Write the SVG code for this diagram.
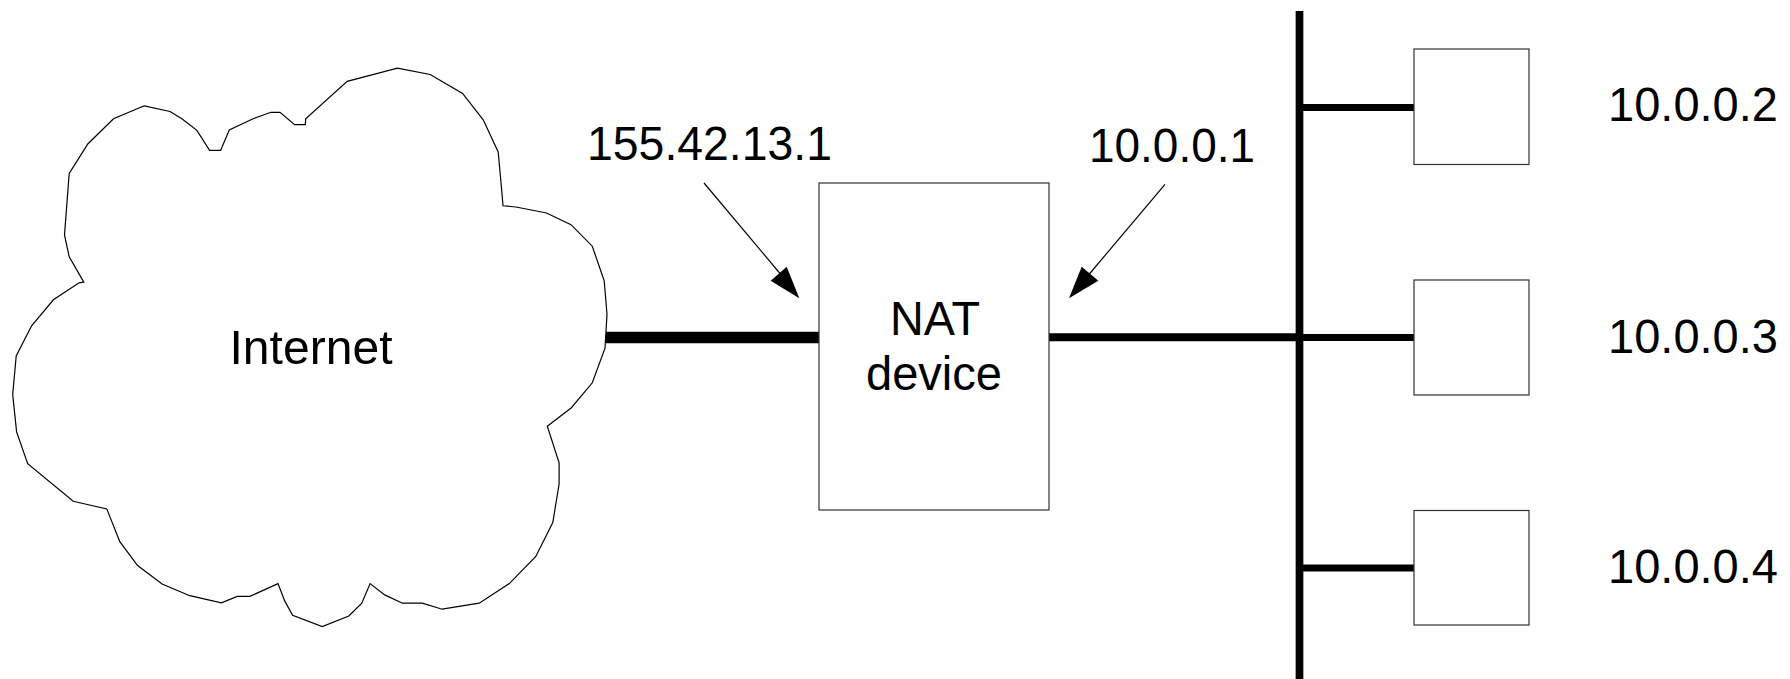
<svg xmlns="http://www.w3.org/2000/svg" width="1790" height="679" viewBox="0 0 1790 679">
<style>
.lbl{font-family:"Liberation Sans",Arial,sans-serif;font-size:48px;fill:#000}
.box{fill:#fff;stroke:#333;stroke-width:1.2}
.thin{stroke:#000;stroke-width:1.2;fill:none}
</style>
<rect width="1790" height="679" fill="#fff"/>
<g id="connectors">
<line x1="606" y1="337.5" x2="819" y2="337.5" stroke="#000" stroke-width="11.5"/>
<line x1="1049" y1="337.3" x2="1299.5" y2="337.3" stroke="#000" stroke-width="8"/>
<line x1="1299.5" y1="11" x2="1299.5" y2="679" stroke="#000" stroke-width="7.7"/>
<line x1="1299.5" y1="107.5" x2="1414" y2="107.5" stroke="#000" stroke-width="7"/>
<line x1="1299.5" y1="337.5" x2="1414" y2="337.5" stroke="#000" stroke-width="7"/>
<line x1="1299.5" y1="568" x2="1414" y2="568" stroke="#000" stroke-width="7"/>
<line x1="704" y1="183" x2="783" y2="277" class="thin"/>
<path d="M799.3,298.3 L770.7,280.7 L786.7,266.7 Z" fill="#000"/>
<line x1="1165" y1="184.3" x2="1086" y2="278" class="thin"/>
<path d="M1069,298.3 L1081.7,266.7 L1098.3,280.7 Z" fill="#000"/>
</g>
<g id="internet">
<path class="thin" fill="#fff" d="M144.3,105.8 L113.5,118.7 L87.8,144 L69.2,173.4 L64.5,234.9 L69.2,256.8 L83.8,282.1 L79.1,282.8 L53.4,299.8 L31.6,325.8 L16.2,356 L12.7,394.5 L16.6,431.9 L27.7,463.6 L73.2,501.3 L106.8,508.9 L119.8,541.7 L137.6,565.5 L162.1,584 L189.8,595.7 L221.4,602.8 L237.3,596.4 L249.9,596.4 L278,583.6 L284.7,600.9 L292.6,615.3 L322.3,626.6 L348.8,616 L361.8,603.2 L370.1,583.6 L384.7,594.9 L402.5,603.2 L422.3,603.2 L442.1,609.2 L479.2,603.2 L509.3,583.6 L535.8,556.4 L552.8,522.5 L559.1,484 L559.1,462.8 L547.3,426.2 L571.4,407.7 L592.3,382.8 L605,348.1 L607,314.2 L604.2,280.9 L592.3,246.2 L571,224.7 L546.5,213 L516,207 L503,205.8 L502.2,196 L498.2,151.9 L483.2,119.8 L462.6,93.4 L430.2,74.5 L397.4,68.1 L347.2,81.3 L305.7,118.7 L305.3,124.7 L294.6,124.7 L280,112.3 L270.9,112.3 L253.1,118.7 L229.3,130 L220.6,150.4 L209.6,150.4 L196.9,130.4 L181.9,118.7 L170,111.5 Z"/>
<text class="lbl" x="311" y="364" text-anchor="middle" textLength="163" lengthAdjust="spacingAndGlyphs">Internet</text>
</g>
<g id="nat">
<rect class="box" x="819" y="183" width="230" height="327"/>
<text class="lbl" x="935" y="335" text-anchor="middle" textLength="90" lengthAdjust="spacingAndGlyphs">NAT</text>
<text class="lbl" x="934" y="390" text-anchor="middle" textLength="136" lengthAdjust="spacingAndGlyphs">device</text>
</g>
<g id="host2"><rect class="box" x="1414" y="49" width="115" height="115.5"/><text class="lbl" x="1608" y="121" textLength="170" lengthAdjust="spacingAndGlyphs">10.0.0.2</text></g>
<g id="host3"><rect class="box" x="1414" y="280" width="115" height="115"/><text class="lbl" x="1608" y="353" textLength="170" lengthAdjust="spacingAndGlyphs">10.0.0.3</text></g>
<g id="host4"><rect class="box" x="1414" y="510.5" width="115" height="114.5"/><text class="lbl" x="1608" y="583" textLength="170" lengthAdjust="spacingAndGlyphs">10.0.0.4</text></g>
<g id="labels">
<text class="lbl" x="587" y="160" textLength="245" lengthAdjust="spacingAndGlyphs">155.42.13.1</text>
<text class="lbl" x="1089" y="161.5" textLength="166" lengthAdjust="spacingAndGlyphs">10.0.0.1</text>
</g>
</svg>
